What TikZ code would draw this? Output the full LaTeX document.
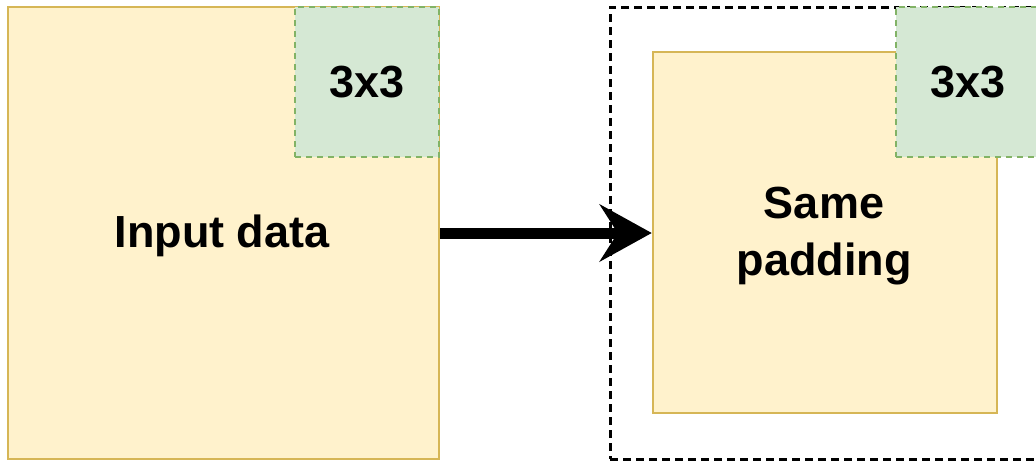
\documentclass[tikz,border=0pt]{standalone}
\usepackage{fontspec}
\setmainfont{Liberation Sans}
\usetikzlibrary{arrows.meta}
\definecolor{ylwfill}{HTML}{FFF2CC}
\definecolor{ylwline}{HTML}{D6B656}
\definecolor{grnfill}{HTML}{D5E8D4}
\definecolor{grnline}{HTML}{82B366}
\tikzset{
  x=1pt, y=-1pt,
  lbl/.style={font=\fontsize{45}{57}\selectfont\bfseries, align=center},
  databox/.style={draw=ylwline, fill=ylwfill, line width=2.5pt, inner sep=0pt, lbl},
  kernel/.style={draw=grnline, fill=grnfill, line width=2.5pt, dash pattern=on 6pt off 5pt, inner sep=0pt, lbl},
  padframe/.style={draw=black, line width=3pt, dash pattern=on 8pt off 5pt, inner sep=0pt},
  flow/.style={line width=11pt, -{Stealth[length=52pt, width=57pt, inset=18pt]}},
}
\begin{document}
\begin{tikzpicture}
\useasboundingbox (0,0) rectangle (1036,461);
\clip (0,0) rectangle (1036,461);
% input feature map with its 3x3 kernel in the corner
\node[databox, minimum width=431pt, minimum height=452pt] (input) at (223.5,233) {};
\node[lbl] (inputtxt) at (222,236) {Input data};
\node[kernel, minimum width=144pt, minimum height=150pt] (kin) at (367,82) {3x3};
% padded map: dashed border around the original data
\node[padframe, minimum width=440pt, minimum height=452pt] (frame) at (830,233) {};
\node[databox, minimum width=344pt, minimum height=361pt] (padded) at (825,232.5) {};
\node[lbl] (paddedtxt) at (824,236) {Same\\padding};
\node[kernel, minimum width=144pt, minimum height=150pt] (kout) at (968,82) {3x3};
% transformation arrow
\draw[flow] (input.east |- 0,233) -- (padded.west |- 0,233);
\end{tikzpicture}
\end{document}
